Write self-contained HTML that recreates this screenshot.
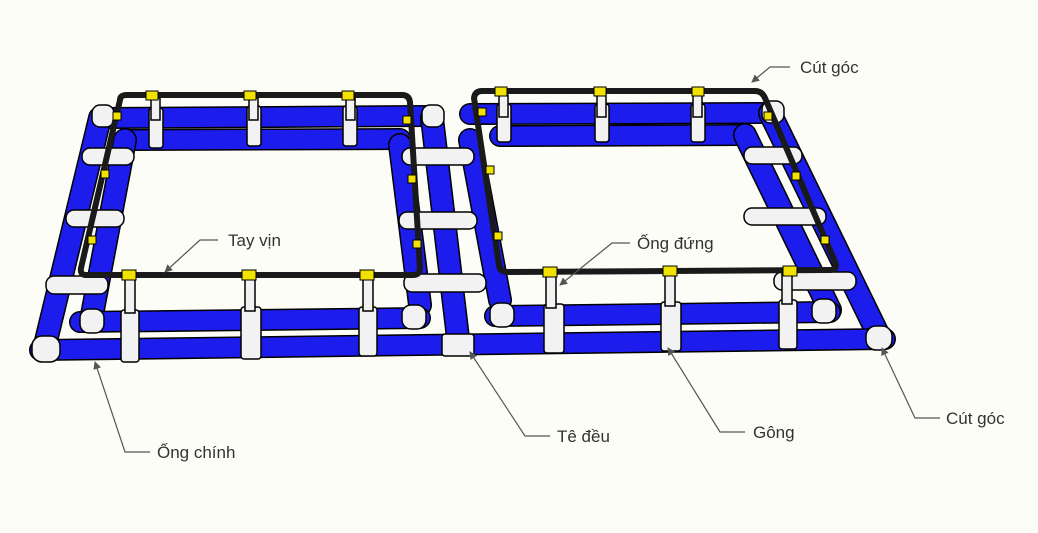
<!DOCTYPE html>
<html><head><meta charset="utf-8"><style>
html,body{margin:0;padding:0;background:#fdfdf7;}
svg{display:block;}
text{font-family:"Liberation Sans",sans-serif;font-size:17px;fill:#333;}
</style></head><body>
<svg width="1038" height="533" viewBox="0 0 1038 533" xmlns="http://www.w3.org/2000/svg">
<defs><marker id="ar" markerWidth="8" markerHeight="8" refX="7" refY="4" orient="auto" markerUnits="userSpaceOnUse"><path d="M0,0 L8,4 L0,8 Z" fill="#555"/></marker></defs>
<rect width="1038" height="533" fill="#fdfdf7"/>
<g stroke-linecap="round" fill="none">
<g stroke="#000" stroke-width="22">
<line x1="100" y1="118" x2="432" y2="116"/>
<line x1="125" y1="140" x2="400" y2="139"/>
<line x1="470" y1="114" x2="770" y2="113"/>
<line x1="500" y1="136" x2="745" y2="135"/>
</g>
<g stroke="#1c1ced" stroke-width="19">
<line x1="100" y1="118" x2="432" y2="116"/>
<line x1="125" y1="140" x2="400" y2="139"/>
<line x1="470" y1="114" x2="770" y2="113"/>
<line x1="500" y1="136" x2="745" y2="135"/>
</g>
<g stroke="#000" stroke-width="24">
<line x1="45" y1="345" x2="100" y2="118"/>
<line x1="92" y1="315" x2="125" y2="140"/>
<line x1="400" y1="145" x2="420" y2="305"/>
<line x1="432" y1="118" x2="458" y2="338"/>
<line x1="470" y1="140" x2="500" y2="300"/>
<line x1="745" y1="135" x2="830" y2="310"/>
<line x1="770" y1="113" x2="880" y2="338"/>
</g>
<g stroke="#1c1ced" stroke-width="21">
<line x1="45" y1="345" x2="100" y2="118"/>
<line x1="92" y1="315" x2="125" y2="140"/>
<line x1="400" y1="145" x2="420" y2="305"/>
<line x1="432" y1="118" x2="458" y2="338"/>
<line x1="470" y1="140" x2="500" y2="300"/>
<line x1="745" y1="135" x2="830" y2="310"/>
<line x1="770" y1="113" x2="880" y2="338"/>
</g>
<g stroke="#000" stroke-width="22">
<line x1="80" y1="322" x2="420" y2="318"/>
<line x1="495" y1="316" x2="830" y2="312"/>
<line x1="40" y1="350" x2="885" y2="339"/>
</g>
<g stroke="#1c1ced" stroke-width="19">
<line x1="80" y1="322" x2="420" y2="318"/>
<line x1="495" y1="316" x2="830" y2="312"/>
<line x1="40" y1="350" x2="885" y2="339"/>
</g>
</g>
<g fill="#f2f2f2" stroke="#000" stroke-width="1.5">
<rect x="32" y="336" width="28" height="26" rx="10"/>
<rect x="866" y="326" width="26" height="24" rx="10"/>
<rect x="442" y="334" width="32" height="22" rx="3"/>
<rect x="80" y="309" width="24" height="24" rx="9"/>
<rect x="402" y="305" width="24" height="24" rx="9"/>
<rect x="490" y="303" width="24" height="24" rx="9"/>
<rect x="812" y="299" width="24" height="24" rx="9"/>
<rect x="92" y="105" width="22" height="22" rx="8"/>
<rect x="422" y="105" width="22" height="22" rx="8"/>
<rect x="762" y="101" width="22" height="22" rx="8"/>
<rect x="46" y="276" width="62" height="18" rx="8"/>
<rect x="66" y="210" width="58" height="17" rx="8"/>
<rect x="82" y="148" width="52" height="17" rx="8"/>
<rect x="404" y="274" width="82" height="18" rx="8"/>
<rect x="399" y="212" width="78" height="17" rx="8"/>
<rect x="402" y="148" width="72" height="17" rx="8"/>
<rect x="774" y="272" width="82" height="18" rx="8"/>
<rect x="744" y="208" width="82" height="17" rx="8"/>
<rect x="744" y="147" width="58" height="17" rx="8"/>
<rect x="121" y="310" width="18" height="52" rx="3"/>
<rect x="241" y="307" width="20" height="52" rx="3"/>
<rect x="359" y="307" width="18" height="49" rx="3"/>
<rect x="544" y="304" width="20" height="49" rx="3"/>
<rect x="661" y="302" width="20" height="49" rx="3"/>
<rect x="779" y="300" width="18" height="49" rx="3"/>
<rect x="149" y="108" width="14" height="40" rx="3"/>
<rect x="247" y="106" width="14" height="40" rx="3"/>
<rect x="343" y="106" width="14" height="40" rx="3"/>
<rect x="497" y="104" width="14" height="38" rx="3"/>
<rect x="595" y="104" width="14" height="38" rx="3"/>
<rect x="691" y="104" width="14" height="38" rx="3"/>
<rect x="125" y="278" width="10" height="35"/>
<rect x="245" y="278" width="10" height="33"/>
<rect x="363" y="278" width="10" height="33"/>
<rect x="546" y="274" width="10" height="34"/>
<rect x="665" y="272" width="10" height="34"/>
<rect x="782" y="272" width="10" height="32"/>
<rect x="151" y="98" width="9" height="22"/>
<rect x="249" y="98" width="9" height="22"/>
<rect x="346" y="98" width="9" height="22"/>
<rect x="499" y="95" width="9" height="22"/>
<rect x="597" y="95" width="9" height="22"/>
<rect x="693" y="95" width="9" height="22"/>
</g>
<g fill="none" stroke="#1a1a1a" stroke-width="6" stroke-linejoin="round">
<path d="M120 100 Q120 95 127 95 L402 95 Q409 95 410 102 L420 268 Q420 275 413 275 L86 275 Q80 275 81 268 Z"/>
<path d="M474 98 Q475 91 482 91 L755 91 Q762 91 765 98 L835 262 Q838 270 830 270 L507 272 Q500 272 499 265 Z"/>
</g>
<g fill="#f2e200" stroke="#000" stroke-width="1">
<rect x="146" y="91" width="12" height="9"/><rect x="244" y="91" width="12" height="9"/><rect x="342" y="91" width="12" height="9"/>
<rect x="495" y="87" width="12" height="9"/><rect x="594" y="87" width="12" height="9"/><rect x="692" y="87" width="12" height="9"/>
<rect x="122" y="270" width="14" height="10"/><rect x="242" y="270" width="14" height="10"/><rect x="360" y="270" width="14" height="10"/>
<rect x="543" y="267" width="14" height="10"/><rect x="663" y="266" width="14" height="10"/><rect x="783" y="266" width="14" height="10"/>
<rect x="113" y="112" width="8" height="8"/><rect x="101" y="170" width="8" height="8"/><rect x="88" y="236" width="8" height="8"/>
<rect x="403" y="116" width="8" height="8"/><rect x="408" y="175" width="8" height="8"/><rect x="413" y="240" width="8" height="8"/>
<rect x="478" y="108" width="8" height="8"/><rect x="486" y="166" width="8" height="8"/><rect x="494" y="232" width="8" height="8"/>
<rect x="764" y="112" width="8" height="8"/><rect x="792" y="172" width="8" height="8"/><rect x="821" y="236" width="8" height="8"/>
</g>
<g stroke="#555" stroke-width="1.2" fill="none" marker-end="url(#ar)">
<polyline points="790,67 770,67 752,82"/>
<polyline points="218,240 200,240 165,272"/>
<polyline points="630,243 612,243 560,285"/>
<polyline points="150,452 125,452 95,362"/>
<polyline points="550,436 525,436 470,352"/>
<polyline points="745,432 720,432 668,348"/>
<polyline points="940,418 915,418 882,348"/>
</g>
<text x="800" y="73">Cút góc</text>
<text x="228" y="246">Tay vịn</text>
<text x="637" y="249">Ống đứng</text>
<text x="157" y="458">Ống chính</text>
<text x="557" y="442">Tê đều</text>
<text x="753" y="438">Gông</text>
<text x="946" y="424">Cút góc</text>
</svg>
</body></html>
